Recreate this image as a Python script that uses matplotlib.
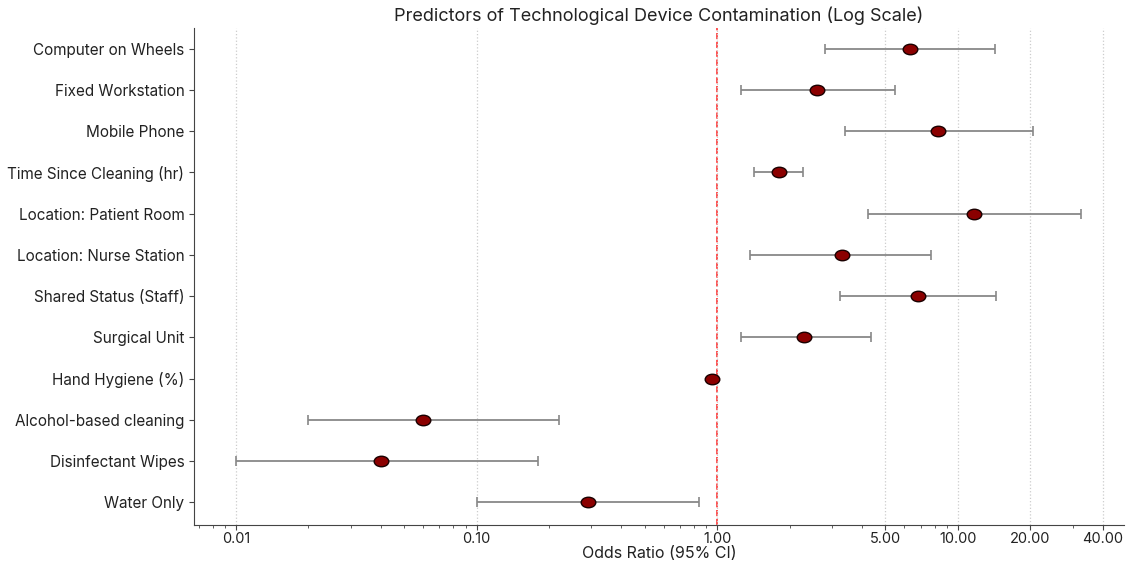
import numpy as np
import matplotlib.pyplot as plt
from matplotlib.path import Path
from matplotlib.ticker import FixedLocator, FixedFormatter, LogLocator, NullFormatter

plt.rcParams['font.family'] = ['Inter', 'DejaVu Sans']

# Predictors, top to bottom as shown
labels = [
    'Computer on Wheels',
    'Fixed Workstation',
    'Mobile Phone',
    'Time Since Cleaning (hr)',
    'Location: Patient Room',
    'Location: Nurse Station',
    'Shared Status (Staff)',
    'Surgical Unit',
    'Hand Hygiene (%)',
    'Alcohol-based cleaning',
    'Disinfectant Wipes',
    'Water Only',
]
odds_ratio = [6.3, 2.6, 8.3, 1.8, 11.7, 3.3, 6.8, 2.3, 0.95, 0.06, 0.04, 0.29]
ci_low = [2.8, 1.25, 3.4, 1.42, 4.25, 1.37, 3.24, 1.25, 0.93, 0.02, 0.01, 0.10]
ci_high = [14.3, 5.5, 20.5, 2.28, 32.4, 7.7, 14.4, 4.35, 0.97, 0.22, 0.18, 0.84]

tick_vals = [0.01, 0.1, 1, 5, 10, 20, 40]
tick_labels = ['0.01', '0.10', '1.00', '5.00', '10.00', '20.00', '40.00']

fig = plt.figure(figsize=(11.32, 5.63), dpi=100)
ax = fig.add_axes([0.1714, 0.0675, 0.8215, 0.8828])

n = len(labels)
y = np.arange(n)[::-1]
orr = np.array(odds_ratio)
lo = np.array(ci_low)
hi = np.array(ci_high)

# slightly flattened ellipse marker
circ = Path.unit_circle()
ellipse = Path(circ.vertices * np.array([1.0, 0.72]), circ.codes)

ax.errorbar(orr, y, xerr=[orr - lo, hi - orr], fmt='none',
            ecolor='#888888', elinewidth=1.3, capsize=3.5, capthick=1.2, zorder=2)
ax.plot(orr, y, linestyle='none', marker=ellipse, markersize=10.5,
        markerfacecolor='#8b0000', markeredgecolor='#1a0000',
        markeredgewidth=1.0, zorder=3)

ax.axvline(1, color='red', linestyle='--', linewidth=1.2, alpha=0.8, zorder=1)

ax.set_xscale('log')
ax.set_xlim(0.0067, 49)
ax.set_ylim(-0.55, n - 1 + 0.5)

ax.xaxis.set_major_locator(FixedLocator(tick_vals))
ax.xaxis.set_major_formatter(FixedFormatter(tick_labels))
ax.xaxis.set_minor_locator(LogLocator(base=10, subs=np.arange(2, 10)))
ax.xaxis.set_minor_formatter(NullFormatter())
ax.grid(axis='x', which='major', linestyle=':', color='#cccccc', linewidth=0.9, zorder=0)

ax.set_yticks(y)
ax.set_yticklabels(labels, fontsize=11, color='#222222')
ax.tick_params(axis='x', labelsize=10.5, colors='#222222', pad=1.5)
ax.tick_params(axis='both', which='major', color='#444444')
ax.tick_params(axis='x', which='minor', length=2.5, color='#444444')

for side in ['top', 'right']:
    ax.spines[side].set_visible(False)
for side in ['left', 'bottom']:
    ax.spines[side].set_color('#444444')

ax.set_xlabel('Odds Ratio (95% CI)', fontsize=11.5, color='#222222', labelpad=0)
ax.set_title('Predictors of Technological Device Contamination (Log Scale)',
             fontsize=13, color='#222222', pad=5)

fig.savefig('out.png', dpi=100)
